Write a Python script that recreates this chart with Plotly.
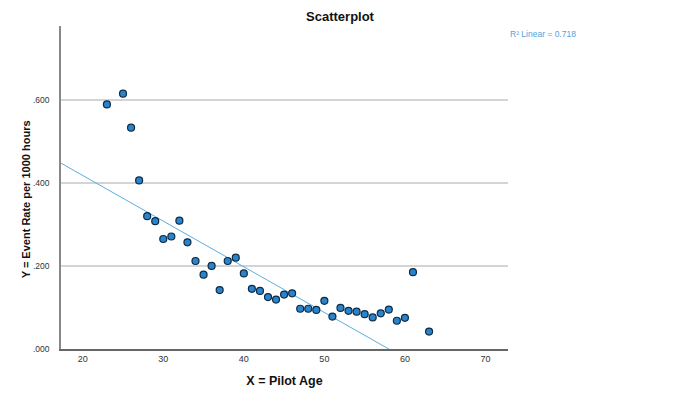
import plotly.graph_objects as go

# Data
pilot_age = [23, 25, 26, 27, 28, 29, 30, 31, 32, 33, 34, 35, 36, 37, 38, 39, 40,
             41, 42, 43, 44, 45, 46, 47, 48, 49, 50, 51, 52, 53, 54, 55, 56, 57,
             58, 59, 60, 61, 63]
event_rate = [0.589, 0.615, 0.533, 0.406, 0.320, 0.308, 0.265, 0.271, 0.309, 0.257,
              0.212, 0.179, 0.200, 0.142, 0.212, 0.220, 0.182, 0.145, 0.140, 0.125,
              0.119, 0.131, 0.134, 0.097, 0.097, 0.094, 0.116, 0.078, 0.099, 0.092,
              0.090, 0.084, 0.076, 0.086, 0.095, 0.068, 0.075, 0.185, 0.042]
# Fit line parameters as shown in the reference (SPSS linear fit)
fit_slope = -0.0110
fit_intercept = 0.638
y_tick_vals = [0.0, 0.2, 0.4, 0.6]
y_tick_text = [".000", ".200", ".400", ".600"]
x_tick_vals = [20, 30, 40, 50, 60, 70]
r2_label = "R² Linear = 0.718"

X_RANGE = [17.3, 72.8]
Y_RANGE = [0.0, 0.778]

fit_x = X_RANGE
fit_y = [fit_slope * v + fit_intercept for v in fit_x]

# page body adds an 8px offset; figure sized to compensate
W, H = 672, 394
L, R, T, B = 53, 172, 18, 53
PW, PH = W - L - R, H - T - B

fig = go.Figure()
fig.add_trace(go.Scatter(
    x=fit_x, y=fit_y, mode="lines",
    line=dict(color="#5aaee0", width=1),
    hoverinfo="skip", showlegend=False,
))
fig.add_trace(go.Scatter(
    x=pilot_age, y=event_rate, mode="markers",
    marker=dict(size=7, color="#2a84cc", line=dict(color="#0d2a44", width=1.2)),
    showlegend=False,
))

fig.update_layout(
    width=W, height=H,
    margin=dict(l=L, r=R, t=T, b=B),
    paper_bgcolor="white", plot_bgcolor="white",
    font=dict(family="Liberation Sans, Arial, sans-serif", color="#222"),
    title=dict(text="<b>Scatterplot</b>", x=(340 - 8) / W, xref="container", xanchor="center",
               y=1 - 8 / H, yref="container", yanchor="middle",
               font=dict(size=13, color="#111")),
    showlegend=False,
)
fig.update_xaxes(
    range=X_RANGE, tickvals=x_tick_vals, showgrid=False, zeroline=False,
    showline=True, linecolor="#666", linewidth=1.5, ticks="",
    tickfont=dict(size=9, color="#333"),
    title=dict(text="<b>X = Pilot Age</b>", font=dict(size=12.5, color="#111"), standoff=14),
)
fig.update_yaxes(
    range=Y_RANGE, tickvals=y_tick_vals, ticktext=y_tick_text,
    showgrid=True, gridcolor="#d4d4d4", gridwidth=1.5, zeroline=False,
    showline=True, linecolor="#888", linewidth=1.5, ticks="",
    ticklabelstandoff=8,
    tickfont=dict(size=8.5, color="#333"),
)
fig.add_annotation(
    text="<b>Y = Event Rate per 1000 hours</b>", textangle=-90,
    xref="paper", yref="paper",
    x=(18 - L) / PW, y=(340.7 - 191) / PH,
    xanchor="center", yanchor="middle", showarrow=False,
    font=dict(size=11, color="#111"),
)
fig.add_annotation(
    text=r2_label, xref="paper", yref="paper",
    x=(500 - L) / PW, y=(340.7 - 26) / PH,
    xanchor="left", yanchor="middle", showarrow=False,
    font=dict(size=8.5, color="#4ea3dc"),
)

fig.write_html("out.html")
